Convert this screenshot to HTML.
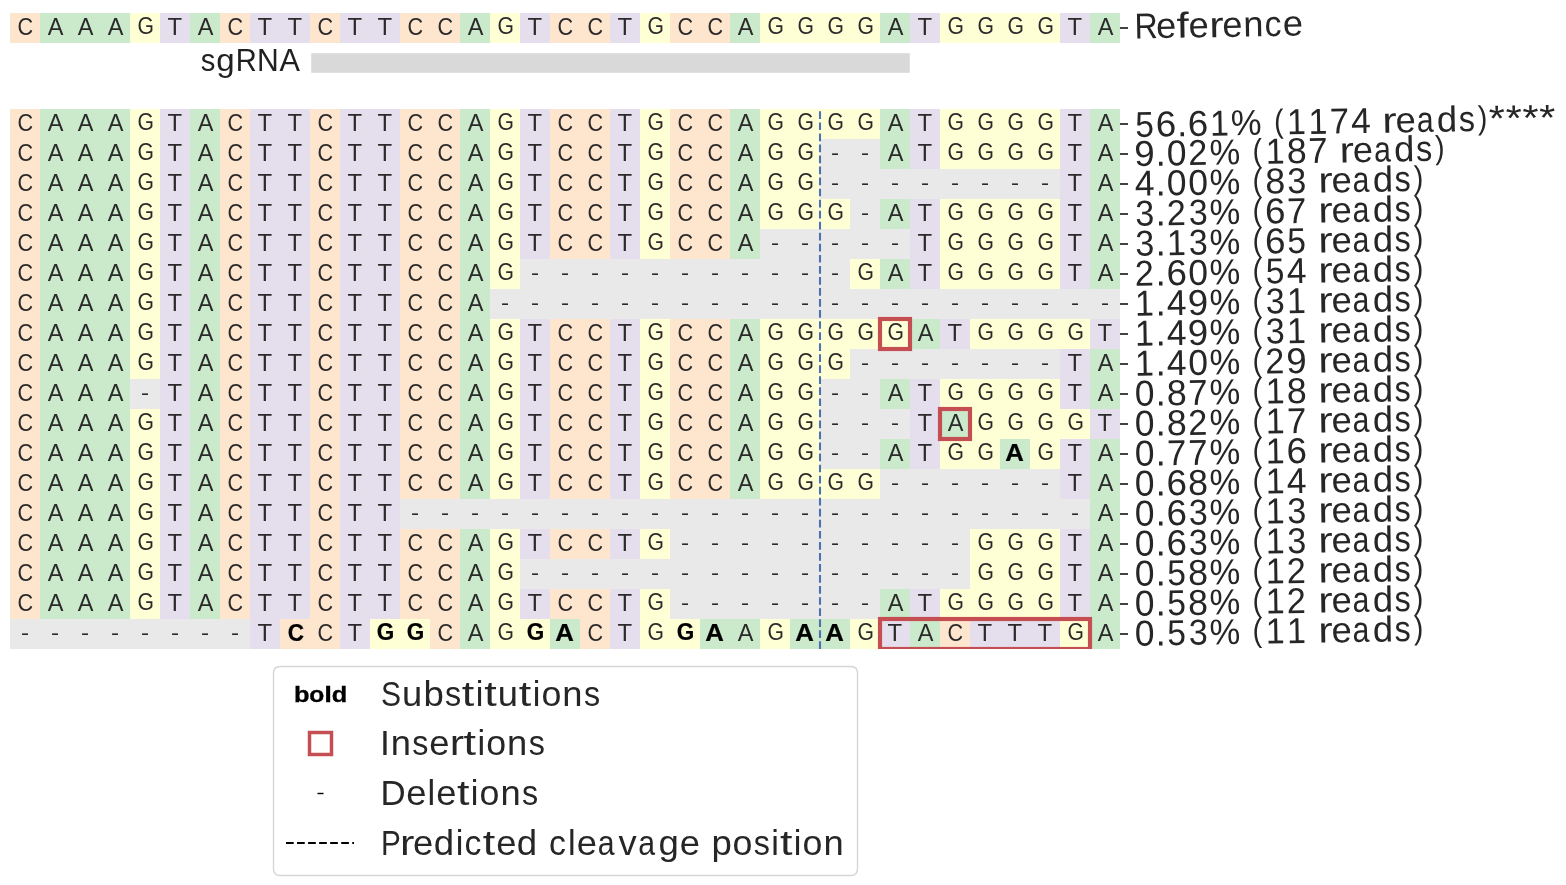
<!DOCTYPE html>
<html><head><meta charset="utf-8"><title>Allele plot</title><style>html,body{margin:0;padding:0;background:#fff;width:1566px;height:885px;overflow:hidden}svg{display:block;will-change:transform}text{font-family:"Liberation Sans",sans-serif}.n{font-size:23.0px;text-anchor:middle}.b{fill:#000;font-weight:bold;font-size:24.0px;text-anchor:middle}.l{fill:#262626;font-size:36px}</style></head><body>
<svg width="1566" height="885" viewBox="0 0 1566 885">
<rect width="1566" height="885" fill="#fff"/>
<defs>
<text id="gA" class="n" style="font-size:23.0px" transform="translate(0.5,7) scale(1.022,1.0)">A</text>
<text id="gC" class="n" style="font-size:23.5px" transform="translate(0.25,7) scale(0.92,1.0)">C</text>
<text id="gG" class="n" style="font-size:24.5px" transform="translate(0.75,6) scale(0.863,0.95)">G</text>
<text id="gT" class="n" style="font-size:24.5px" transform="translate(-0.25,7) scale(0.978,1.0)">T</text>
<text id="gD" class="n" style="font-size:22.0px" transform="translate(0.0,6) scale(1.103,0.92)">-</text>
<text id="gbA" class="b" style="font-size:24.0px;stroke:#000;stroke-width:0.25px" transform="translate(-0.5,7) scale(1.074,0.98)">A</text>
<text id="gbC" class="b" style="font-size:23.0px;stroke:#000;stroke-width:0.25px" transform="translate(1.0,7) scale(0.98,1.0)">C</text>
<text id="gbG" class="b" style="font-size:25.0px;stroke:#000;stroke-width:0.25px" transform="translate(0.5,6) scale(0.902,0.95)">G</text>
</defs>
<rect x="10" y="13" width="30" height="30" fill="#fee5ce"/><rect x="40" y="13" width="90" height="30" fill="#cbe9cb"/><rect x="130" y="13" width="30" height="30" fill="#ffffd6"/><rect x="160" y="13" width="30" height="30" fill="#e5deed"/><rect x="190" y="13" width="30" height="30" fill="#cbe9cb"/><rect x="220" y="13" width="30" height="30" fill="#fee5ce"/><rect x="250" y="13" width="60" height="30" fill="#e5deed"/><rect x="310" y="13" width="30" height="30" fill="#fee5ce"/><rect x="340" y="13" width="60" height="30" fill="#e5deed"/><rect x="400" y="13" width="60" height="30" fill="#fee5ce"/><rect x="460" y="13" width="30" height="30" fill="#cbe9cb"/><rect x="490" y="13" width="30" height="30" fill="#ffffd6"/><rect x="520" y="13" width="30" height="30" fill="#e5deed"/><rect x="550" y="13" width="60" height="30" fill="#fee5ce"/><rect x="610" y="13" width="30" height="30" fill="#e5deed"/><rect x="640" y="13" width="30" height="30" fill="#ffffd6"/><rect x="670" y="13" width="60" height="30" fill="#fee5ce"/><rect x="730" y="13" width="30" height="30" fill="#cbe9cb"/><rect x="760" y="13" width="120" height="30" fill="#ffffd6"/><rect x="880" y="13" width="30" height="30" fill="#cbe9cb"/><rect x="910" y="13" width="30" height="30" fill="#e5deed"/><rect x="940" y="13" width="120" height="30" fill="#ffffd6"/><rect x="1060" y="13" width="30" height="30" fill="#e5deed"/><rect x="1090" y="13" width="30" height="30" fill="#cbe9cb"/><g fill="#2a2a2a"><use href="#gC" x="25" y="28"/><use href="#gA" x="55" y="28"/><use href="#gA" x="85" y="28"/><use href="#gA" x="115" y="28"/><use href="#gG" x="145" y="28"/><use href="#gT" x="175" y="28"/><use href="#gA" x="205" y="28"/><use href="#gC" x="235" y="28"/><use href="#gT" x="265" y="28"/><use href="#gT" x="295" y="28"/><use href="#gC" x="325" y="28"/><use href="#gT" x="355" y="28"/><use href="#gT" x="385" y="28"/><use href="#gC" x="415" y="28"/><use href="#gC" x="445" y="28"/><use href="#gA" x="475" y="28"/><use href="#gG" x="505" y="28"/><use href="#gT" x="535" y="28"/><use href="#gC" x="565" y="28"/><use href="#gC" x="595" y="28"/><use href="#gT" x="625" y="28"/><use href="#gG" x="655" y="28"/><use href="#gC" x="685" y="28"/><use href="#gC" x="715" y="28"/><use href="#gA" x="745" y="28"/><use href="#gG" x="775" y="28"/><use href="#gG" x="805" y="28"/><use href="#gG" x="835" y="28"/><use href="#gG" x="865" y="28"/><use href="#gA" x="895" y="28"/><use href="#gT" x="925" y="28"/><use href="#gG" x="955" y="28"/><use href="#gG" x="985" y="28"/><use href="#gG" x="1015" y="28"/><use href="#gG" x="1045" y="28"/><use href="#gT" x="1075" y="28"/><use href="#gA" x="1105" y="28"/></g>
<rect x="10" y="109" width="30" height="30" fill="#fee5ce"/><rect x="40" y="109" width="90" height="30" fill="#cbe9cb"/><rect x="130" y="109" width="30" height="30" fill="#ffffd6"/><rect x="160" y="109" width="30" height="30" fill="#e5deed"/><rect x="190" y="109" width="30" height="30" fill="#cbe9cb"/><rect x="220" y="109" width="30" height="30" fill="#fee5ce"/><rect x="250" y="109" width="60" height="30" fill="#e5deed"/><rect x="310" y="109" width="30" height="30" fill="#fee5ce"/><rect x="340" y="109" width="60" height="30" fill="#e5deed"/><rect x="400" y="109" width="60" height="30" fill="#fee5ce"/><rect x="460" y="109" width="30" height="30" fill="#cbe9cb"/><rect x="490" y="109" width="30" height="30" fill="#ffffd6"/><rect x="520" y="109" width="30" height="30" fill="#e5deed"/><rect x="550" y="109" width="60" height="30" fill="#fee5ce"/><rect x="610" y="109" width="30" height="30" fill="#e5deed"/><rect x="640" y="109" width="30" height="30" fill="#ffffd6"/><rect x="670" y="109" width="60" height="30" fill="#fee5ce"/><rect x="730" y="109" width="30" height="30" fill="#cbe9cb"/><rect x="760" y="109" width="120" height="30" fill="#ffffd6"/><rect x="880" y="109" width="30" height="30" fill="#cbe9cb"/><rect x="910" y="109" width="30" height="30" fill="#e5deed"/><rect x="940" y="109" width="120" height="30" fill="#ffffd6"/><rect x="1060" y="109" width="30" height="30" fill="#e5deed"/><rect x="1090" y="109" width="30" height="30" fill="#cbe9cb"/><g fill="#2a2a2a"><use href="#gC" x="25" y="124"/><use href="#gA" x="55" y="124"/><use href="#gA" x="85" y="124"/><use href="#gA" x="115" y="124"/><use href="#gG" x="145" y="124"/><use href="#gT" x="175" y="124"/><use href="#gA" x="205" y="124"/><use href="#gC" x="235" y="124"/><use href="#gT" x="265" y="124"/><use href="#gT" x="295" y="124"/><use href="#gC" x="325" y="124"/><use href="#gT" x="355" y="124"/><use href="#gT" x="385" y="124"/><use href="#gC" x="415" y="124"/><use href="#gC" x="445" y="124"/><use href="#gA" x="475" y="124"/><use href="#gG" x="505" y="124"/><use href="#gT" x="535" y="124"/><use href="#gC" x="565" y="124"/><use href="#gC" x="595" y="124"/><use href="#gT" x="625" y="124"/><use href="#gG" x="655" y="124"/><use href="#gC" x="685" y="124"/><use href="#gC" x="715" y="124"/><use href="#gA" x="745" y="124"/><use href="#gG" x="775" y="124"/><use href="#gG" x="805" y="124"/><use href="#gG" x="835" y="124"/><use href="#gG" x="865" y="124"/><use href="#gA" x="895" y="124"/><use href="#gT" x="925" y="124"/><use href="#gG" x="955" y="124"/><use href="#gG" x="985" y="124"/><use href="#gG" x="1015" y="124"/><use href="#gG" x="1045" y="124"/><use href="#gT" x="1075" y="124"/><use href="#gA" x="1105" y="124"/></g>
<rect x="10" y="139" width="30" height="30" fill="#fee5ce"/><rect x="40" y="139" width="90" height="30" fill="#cbe9cb"/><rect x="130" y="139" width="30" height="30" fill="#ffffd6"/><rect x="160" y="139" width="30" height="30" fill="#e5deed"/><rect x="190" y="139" width="30" height="30" fill="#cbe9cb"/><rect x="220" y="139" width="30" height="30" fill="#fee5ce"/><rect x="250" y="139" width="60" height="30" fill="#e5deed"/><rect x="310" y="139" width="30" height="30" fill="#fee5ce"/><rect x="340" y="139" width="60" height="30" fill="#e5deed"/><rect x="400" y="139" width="60" height="30" fill="#fee5ce"/><rect x="460" y="139" width="30" height="30" fill="#cbe9cb"/><rect x="490" y="139" width="30" height="30" fill="#ffffd6"/><rect x="520" y="139" width="30" height="30" fill="#e5deed"/><rect x="550" y="139" width="60" height="30" fill="#fee5ce"/><rect x="610" y="139" width="30" height="30" fill="#e5deed"/><rect x="640" y="139" width="30" height="30" fill="#ffffd6"/><rect x="670" y="139" width="60" height="30" fill="#fee5ce"/><rect x="730" y="139" width="30" height="30" fill="#cbe9cb"/><rect x="760" y="139" width="60" height="30" fill="#ffffd6"/><rect x="820" y="139" width="60" height="30" fill="#e9e9e9"/><rect x="880" y="139" width="30" height="30" fill="#cbe9cb"/><rect x="910" y="139" width="30" height="30" fill="#e5deed"/><rect x="940" y="139" width="120" height="30" fill="#ffffd6"/><rect x="1060" y="139" width="30" height="30" fill="#e5deed"/><rect x="1090" y="139" width="30" height="30" fill="#cbe9cb"/><g fill="#2a2a2a"><use href="#gC" x="25" y="154"/><use href="#gA" x="55" y="154"/><use href="#gA" x="85" y="154"/><use href="#gA" x="115" y="154"/><use href="#gG" x="145" y="154"/><use href="#gT" x="175" y="154"/><use href="#gA" x="205" y="154"/><use href="#gC" x="235" y="154"/><use href="#gT" x="265" y="154"/><use href="#gT" x="295" y="154"/><use href="#gC" x="325" y="154"/><use href="#gT" x="355" y="154"/><use href="#gT" x="385" y="154"/><use href="#gC" x="415" y="154"/><use href="#gC" x="445" y="154"/><use href="#gA" x="475" y="154"/><use href="#gG" x="505" y="154"/><use href="#gT" x="535" y="154"/><use href="#gC" x="565" y="154"/><use href="#gC" x="595" y="154"/><use href="#gT" x="625" y="154"/><use href="#gG" x="655" y="154"/><use href="#gC" x="685" y="154"/><use href="#gC" x="715" y="154"/><use href="#gA" x="745" y="154"/><use href="#gG" x="775" y="154"/><use href="#gG" x="805" y="154"/><use href="#gD" x="835" y="154"/><use href="#gD" x="865" y="154"/><use href="#gA" x="895" y="154"/><use href="#gT" x="925" y="154"/><use href="#gG" x="955" y="154"/><use href="#gG" x="985" y="154"/><use href="#gG" x="1015" y="154"/><use href="#gG" x="1045" y="154"/><use href="#gT" x="1075" y="154"/><use href="#gA" x="1105" y="154"/></g>
<rect x="10" y="169" width="30" height="30" fill="#fee5ce"/><rect x="40" y="169" width="90" height="30" fill="#cbe9cb"/><rect x="130" y="169" width="30" height="30" fill="#ffffd6"/><rect x="160" y="169" width="30" height="30" fill="#e5deed"/><rect x="190" y="169" width="30" height="30" fill="#cbe9cb"/><rect x="220" y="169" width="30" height="30" fill="#fee5ce"/><rect x="250" y="169" width="60" height="30" fill="#e5deed"/><rect x="310" y="169" width="30" height="30" fill="#fee5ce"/><rect x="340" y="169" width="60" height="30" fill="#e5deed"/><rect x="400" y="169" width="60" height="30" fill="#fee5ce"/><rect x="460" y="169" width="30" height="30" fill="#cbe9cb"/><rect x="490" y="169" width="30" height="30" fill="#ffffd6"/><rect x="520" y="169" width="30" height="30" fill="#e5deed"/><rect x="550" y="169" width="60" height="30" fill="#fee5ce"/><rect x="610" y="169" width="30" height="30" fill="#e5deed"/><rect x="640" y="169" width="30" height="30" fill="#ffffd6"/><rect x="670" y="169" width="60" height="30" fill="#fee5ce"/><rect x="730" y="169" width="30" height="30" fill="#cbe9cb"/><rect x="760" y="169" width="60" height="30" fill="#ffffd6"/><rect x="820" y="169" width="240" height="30" fill="#e9e9e9"/><rect x="1060" y="169" width="30" height="30" fill="#e5deed"/><rect x="1090" y="169" width="30" height="30" fill="#cbe9cb"/><g fill="#2a2a2a"><use href="#gC" x="25" y="184"/><use href="#gA" x="55" y="184"/><use href="#gA" x="85" y="184"/><use href="#gA" x="115" y="184"/><use href="#gG" x="145" y="184"/><use href="#gT" x="175" y="184"/><use href="#gA" x="205" y="184"/><use href="#gC" x="235" y="184"/><use href="#gT" x="265" y="184"/><use href="#gT" x="295" y="184"/><use href="#gC" x="325" y="184"/><use href="#gT" x="355" y="184"/><use href="#gT" x="385" y="184"/><use href="#gC" x="415" y="184"/><use href="#gC" x="445" y="184"/><use href="#gA" x="475" y="184"/><use href="#gG" x="505" y="184"/><use href="#gT" x="535" y="184"/><use href="#gC" x="565" y="184"/><use href="#gC" x="595" y="184"/><use href="#gT" x="625" y="184"/><use href="#gG" x="655" y="184"/><use href="#gC" x="685" y="184"/><use href="#gC" x="715" y="184"/><use href="#gA" x="745" y="184"/><use href="#gG" x="775" y="184"/><use href="#gG" x="805" y="184"/><use href="#gD" x="835" y="184"/><use href="#gD" x="865" y="184"/><use href="#gD" x="895" y="184"/><use href="#gD" x="925" y="184"/><use href="#gD" x="955" y="184"/><use href="#gD" x="985" y="184"/><use href="#gD" x="1015" y="184"/><use href="#gD" x="1045" y="184"/><use href="#gT" x="1075" y="184"/><use href="#gA" x="1105" y="184"/></g>
<rect x="10" y="199" width="30" height="30" fill="#fee5ce"/><rect x="40" y="199" width="90" height="30" fill="#cbe9cb"/><rect x="130" y="199" width="30" height="30" fill="#ffffd6"/><rect x="160" y="199" width="30" height="30" fill="#e5deed"/><rect x="190" y="199" width="30" height="30" fill="#cbe9cb"/><rect x="220" y="199" width="30" height="30" fill="#fee5ce"/><rect x="250" y="199" width="60" height="30" fill="#e5deed"/><rect x="310" y="199" width="30" height="30" fill="#fee5ce"/><rect x="340" y="199" width="60" height="30" fill="#e5deed"/><rect x="400" y="199" width="60" height="30" fill="#fee5ce"/><rect x="460" y="199" width="30" height="30" fill="#cbe9cb"/><rect x="490" y="199" width="30" height="30" fill="#ffffd6"/><rect x="520" y="199" width="30" height="30" fill="#e5deed"/><rect x="550" y="199" width="60" height="30" fill="#fee5ce"/><rect x="610" y="199" width="30" height="30" fill="#e5deed"/><rect x="640" y="199" width="30" height="30" fill="#ffffd6"/><rect x="670" y="199" width="60" height="30" fill="#fee5ce"/><rect x="730" y="199" width="30" height="30" fill="#cbe9cb"/><rect x="760" y="199" width="90" height="30" fill="#ffffd6"/><rect x="850" y="199" width="30" height="30" fill="#e9e9e9"/><rect x="880" y="199" width="30" height="30" fill="#cbe9cb"/><rect x="910" y="199" width="30" height="30" fill="#e5deed"/><rect x="940" y="199" width="120" height="30" fill="#ffffd6"/><rect x="1060" y="199" width="30" height="30" fill="#e5deed"/><rect x="1090" y="199" width="30" height="30" fill="#cbe9cb"/><g fill="#2a2a2a"><use href="#gC" x="25" y="214"/><use href="#gA" x="55" y="214"/><use href="#gA" x="85" y="214"/><use href="#gA" x="115" y="214"/><use href="#gG" x="145" y="214"/><use href="#gT" x="175" y="214"/><use href="#gA" x="205" y="214"/><use href="#gC" x="235" y="214"/><use href="#gT" x="265" y="214"/><use href="#gT" x="295" y="214"/><use href="#gC" x="325" y="214"/><use href="#gT" x="355" y="214"/><use href="#gT" x="385" y="214"/><use href="#gC" x="415" y="214"/><use href="#gC" x="445" y="214"/><use href="#gA" x="475" y="214"/><use href="#gG" x="505" y="214"/><use href="#gT" x="535" y="214"/><use href="#gC" x="565" y="214"/><use href="#gC" x="595" y="214"/><use href="#gT" x="625" y="214"/><use href="#gG" x="655" y="214"/><use href="#gC" x="685" y="214"/><use href="#gC" x="715" y="214"/><use href="#gA" x="745" y="214"/><use href="#gG" x="775" y="214"/><use href="#gG" x="805" y="214"/><use href="#gG" x="835" y="214"/><use href="#gD" x="865" y="214"/><use href="#gA" x="895" y="214"/><use href="#gT" x="925" y="214"/><use href="#gG" x="955" y="214"/><use href="#gG" x="985" y="214"/><use href="#gG" x="1015" y="214"/><use href="#gG" x="1045" y="214"/><use href="#gT" x="1075" y="214"/><use href="#gA" x="1105" y="214"/></g>
<rect x="10" y="229" width="30" height="30" fill="#fee5ce"/><rect x="40" y="229" width="90" height="30" fill="#cbe9cb"/><rect x="130" y="229" width="30" height="30" fill="#ffffd6"/><rect x="160" y="229" width="30" height="30" fill="#e5deed"/><rect x="190" y="229" width="30" height="30" fill="#cbe9cb"/><rect x="220" y="229" width="30" height="30" fill="#fee5ce"/><rect x="250" y="229" width="60" height="30" fill="#e5deed"/><rect x="310" y="229" width="30" height="30" fill="#fee5ce"/><rect x="340" y="229" width="60" height="30" fill="#e5deed"/><rect x="400" y="229" width="60" height="30" fill="#fee5ce"/><rect x="460" y="229" width="30" height="30" fill="#cbe9cb"/><rect x="490" y="229" width="30" height="30" fill="#ffffd6"/><rect x="520" y="229" width="30" height="30" fill="#e5deed"/><rect x="550" y="229" width="60" height="30" fill="#fee5ce"/><rect x="610" y="229" width="30" height="30" fill="#e5deed"/><rect x="640" y="229" width="30" height="30" fill="#ffffd6"/><rect x="670" y="229" width="60" height="30" fill="#fee5ce"/><rect x="730" y="229" width="30" height="30" fill="#cbe9cb"/><rect x="760" y="229" width="150" height="30" fill="#e9e9e9"/><rect x="910" y="229" width="30" height="30" fill="#e5deed"/><rect x="940" y="229" width="120" height="30" fill="#ffffd6"/><rect x="1060" y="229" width="30" height="30" fill="#e5deed"/><rect x="1090" y="229" width="30" height="30" fill="#cbe9cb"/><g fill="#2a2a2a"><use href="#gC" x="25" y="244"/><use href="#gA" x="55" y="244"/><use href="#gA" x="85" y="244"/><use href="#gA" x="115" y="244"/><use href="#gG" x="145" y="244"/><use href="#gT" x="175" y="244"/><use href="#gA" x="205" y="244"/><use href="#gC" x="235" y="244"/><use href="#gT" x="265" y="244"/><use href="#gT" x="295" y="244"/><use href="#gC" x="325" y="244"/><use href="#gT" x="355" y="244"/><use href="#gT" x="385" y="244"/><use href="#gC" x="415" y="244"/><use href="#gC" x="445" y="244"/><use href="#gA" x="475" y="244"/><use href="#gG" x="505" y="244"/><use href="#gT" x="535" y="244"/><use href="#gC" x="565" y="244"/><use href="#gC" x="595" y="244"/><use href="#gT" x="625" y="244"/><use href="#gG" x="655" y="244"/><use href="#gC" x="685" y="244"/><use href="#gC" x="715" y="244"/><use href="#gA" x="745" y="244"/><use href="#gD" x="775" y="244"/><use href="#gD" x="805" y="244"/><use href="#gD" x="835" y="244"/><use href="#gD" x="865" y="244"/><use href="#gD" x="895" y="244"/><use href="#gT" x="925" y="244"/><use href="#gG" x="955" y="244"/><use href="#gG" x="985" y="244"/><use href="#gG" x="1015" y="244"/><use href="#gG" x="1045" y="244"/><use href="#gT" x="1075" y="244"/><use href="#gA" x="1105" y="244"/></g>
<rect x="10" y="259" width="30" height="30" fill="#fee5ce"/><rect x="40" y="259" width="90" height="30" fill="#cbe9cb"/><rect x="130" y="259" width="30" height="30" fill="#ffffd6"/><rect x="160" y="259" width="30" height="30" fill="#e5deed"/><rect x="190" y="259" width="30" height="30" fill="#cbe9cb"/><rect x="220" y="259" width="30" height="30" fill="#fee5ce"/><rect x="250" y="259" width="60" height="30" fill="#e5deed"/><rect x="310" y="259" width="30" height="30" fill="#fee5ce"/><rect x="340" y="259" width="60" height="30" fill="#e5deed"/><rect x="400" y="259" width="60" height="30" fill="#fee5ce"/><rect x="460" y="259" width="30" height="30" fill="#cbe9cb"/><rect x="490" y="259" width="30" height="30" fill="#ffffd6"/><rect x="520" y="259" width="330" height="30" fill="#e9e9e9"/><rect x="850" y="259" width="30" height="30" fill="#ffffd6"/><rect x="880" y="259" width="30" height="30" fill="#cbe9cb"/><rect x="910" y="259" width="30" height="30" fill="#e5deed"/><rect x="940" y="259" width="120" height="30" fill="#ffffd6"/><rect x="1060" y="259" width="30" height="30" fill="#e5deed"/><rect x="1090" y="259" width="30" height="30" fill="#cbe9cb"/><g fill="#2a2a2a"><use href="#gC" x="25" y="274"/><use href="#gA" x="55" y="274"/><use href="#gA" x="85" y="274"/><use href="#gA" x="115" y="274"/><use href="#gG" x="145" y="274"/><use href="#gT" x="175" y="274"/><use href="#gA" x="205" y="274"/><use href="#gC" x="235" y="274"/><use href="#gT" x="265" y="274"/><use href="#gT" x="295" y="274"/><use href="#gC" x="325" y="274"/><use href="#gT" x="355" y="274"/><use href="#gT" x="385" y="274"/><use href="#gC" x="415" y="274"/><use href="#gC" x="445" y="274"/><use href="#gA" x="475" y="274"/><use href="#gG" x="505" y="274"/><use href="#gD" x="535" y="274"/><use href="#gD" x="565" y="274"/><use href="#gD" x="595" y="274"/><use href="#gD" x="625" y="274"/><use href="#gD" x="655" y="274"/><use href="#gD" x="685" y="274"/><use href="#gD" x="715" y="274"/><use href="#gD" x="745" y="274"/><use href="#gD" x="775" y="274"/><use href="#gD" x="805" y="274"/><use href="#gD" x="835" y="274"/><use href="#gG" x="865" y="274"/><use href="#gA" x="895" y="274"/><use href="#gT" x="925" y="274"/><use href="#gG" x="955" y="274"/><use href="#gG" x="985" y="274"/><use href="#gG" x="1015" y="274"/><use href="#gG" x="1045" y="274"/><use href="#gT" x="1075" y="274"/><use href="#gA" x="1105" y="274"/></g>
<rect x="10" y="289" width="30" height="30" fill="#fee5ce"/><rect x="40" y="289" width="90" height="30" fill="#cbe9cb"/><rect x="130" y="289" width="30" height="30" fill="#ffffd6"/><rect x="160" y="289" width="30" height="30" fill="#e5deed"/><rect x="190" y="289" width="30" height="30" fill="#cbe9cb"/><rect x="220" y="289" width="30" height="30" fill="#fee5ce"/><rect x="250" y="289" width="60" height="30" fill="#e5deed"/><rect x="310" y="289" width="30" height="30" fill="#fee5ce"/><rect x="340" y="289" width="60" height="30" fill="#e5deed"/><rect x="400" y="289" width="60" height="30" fill="#fee5ce"/><rect x="460" y="289" width="30" height="30" fill="#cbe9cb"/><rect x="490" y="289" width="630" height="30" fill="#e9e9e9"/><g fill="#2a2a2a"><use href="#gC" x="25" y="304"/><use href="#gA" x="55" y="304"/><use href="#gA" x="85" y="304"/><use href="#gA" x="115" y="304"/><use href="#gG" x="145" y="304"/><use href="#gT" x="175" y="304"/><use href="#gA" x="205" y="304"/><use href="#gC" x="235" y="304"/><use href="#gT" x="265" y="304"/><use href="#gT" x="295" y="304"/><use href="#gC" x="325" y="304"/><use href="#gT" x="355" y="304"/><use href="#gT" x="385" y="304"/><use href="#gC" x="415" y="304"/><use href="#gC" x="445" y="304"/><use href="#gA" x="475" y="304"/><use href="#gD" x="505" y="304"/><use href="#gD" x="535" y="304"/><use href="#gD" x="565" y="304"/><use href="#gD" x="595" y="304"/><use href="#gD" x="625" y="304"/><use href="#gD" x="655" y="304"/><use href="#gD" x="685" y="304"/><use href="#gD" x="715" y="304"/><use href="#gD" x="745" y="304"/><use href="#gD" x="775" y="304"/><use href="#gD" x="805" y="304"/><use href="#gD" x="835" y="304"/><use href="#gD" x="865" y="304"/><use href="#gD" x="895" y="304"/><use href="#gD" x="925" y="304"/><use href="#gD" x="955" y="304"/><use href="#gD" x="985" y="304"/><use href="#gD" x="1015" y="304"/><use href="#gD" x="1045" y="304"/><use href="#gD" x="1075" y="304"/><use href="#gD" x="1105" y="304"/></g>
<rect x="10" y="319" width="30" height="30" fill="#fee5ce"/><rect x="40" y="319" width="90" height="30" fill="#cbe9cb"/><rect x="130" y="319" width="30" height="30" fill="#ffffd6"/><rect x="160" y="319" width="30" height="30" fill="#e5deed"/><rect x="190" y="319" width="30" height="30" fill="#cbe9cb"/><rect x="220" y="319" width="30" height="30" fill="#fee5ce"/><rect x="250" y="319" width="60" height="30" fill="#e5deed"/><rect x="310" y="319" width="30" height="30" fill="#fee5ce"/><rect x="340" y="319" width="60" height="30" fill="#e5deed"/><rect x="400" y="319" width="60" height="30" fill="#fee5ce"/><rect x="460" y="319" width="30" height="30" fill="#cbe9cb"/><rect x="490" y="319" width="30" height="30" fill="#ffffd6"/><rect x="520" y="319" width="30" height="30" fill="#e5deed"/><rect x="550" y="319" width="60" height="30" fill="#fee5ce"/><rect x="610" y="319" width="30" height="30" fill="#e5deed"/><rect x="640" y="319" width="30" height="30" fill="#ffffd6"/><rect x="670" y="319" width="60" height="30" fill="#fee5ce"/><rect x="730" y="319" width="30" height="30" fill="#cbe9cb"/><rect x="760" y="319" width="150" height="30" fill="#ffffd6"/><rect x="910" y="319" width="30" height="30" fill="#cbe9cb"/><rect x="940" y="319" width="30" height="30" fill="#e5deed"/><rect x="970" y="319" width="120" height="30" fill="#ffffd6"/><rect x="1090" y="319" width="30" height="30" fill="#e5deed"/><g fill="#2a2a2a"><use href="#gC" x="25" y="334"/><use href="#gA" x="55" y="334"/><use href="#gA" x="85" y="334"/><use href="#gA" x="115" y="334"/><use href="#gG" x="145" y="334"/><use href="#gT" x="175" y="334"/><use href="#gA" x="205" y="334"/><use href="#gC" x="235" y="334"/><use href="#gT" x="265" y="334"/><use href="#gT" x="295" y="334"/><use href="#gC" x="325" y="334"/><use href="#gT" x="355" y="334"/><use href="#gT" x="385" y="334"/><use href="#gC" x="415" y="334"/><use href="#gC" x="445" y="334"/><use href="#gA" x="475" y="334"/><use href="#gG" x="505" y="334"/><use href="#gT" x="535" y="334"/><use href="#gC" x="565" y="334"/><use href="#gC" x="595" y="334"/><use href="#gT" x="625" y="334"/><use href="#gG" x="655" y="334"/><use href="#gC" x="685" y="334"/><use href="#gC" x="715" y="334"/><use href="#gA" x="745" y="334"/><use href="#gG" x="775" y="334"/><use href="#gG" x="805" y="334"/><use href="#gG" x="835" y="334"/><use href="#gG" x="865" y="334"/><use href="#gG" x="895" y="334"/><use href="#gA" x="925" y="334"/><use href="#gT" x="955" y="334"/><use href="#gG" x="985" y="334"/><use href="#gG" x="1015" y="334"/><use href="#gG" x="1045" y="334"/><use href="#gG" x="1075" y="334"/><use href="#gT" x="1105" y="334"/></g>
<rect x="10" y="349" width="30" height="30" fill="#fee5ce"/><rect x="40" y="349" width="90" height="30" fill="#cbe9cb"/><rect x="130" y="349" width="30" height="30" fill="#ffffd6"/><rect x="160" y="349" width="30" height="30" fill="#e5deed"/><rect x="190" y="349" width="30" height="30" fill="#cbe9cb"/><rect x="220" y="349" width="30" height="30" fill="#fee5ce"/><rect x="250" y="349" width="60" height="30" fill="#e5deed"/><rect x="310" y="349" width="30" height="30" fill="#fee5ce"/><rect x="340" y="349" width="60" height="30" fill="#e5deed"/><rect x="400" y="349" width="60" height="30" fill="#fee5ce"/><rect x="460" y="349" width="30" height="30" fill="#cbe9cb"/><rect x="490" y="349" width="30" height="30" fill="#ffffd6"/><rect x="520" y="349" width="30" height="30" fill="#e5deed"/><rect x="550" y="349" width="60" height="30" fill="#fee5ce"/><rect x="610" y="349" width="30" height="30" fill="#e5deed"/><rect x="640" y="349" width="30" height="30" fill="#ffffd6"/><rect x="670" y="349" width="60" height="30" fill="#fee5ce"/><rect x="730" y="349" width="30" height="30" fill="#cbe9cb"/><rect x="760" y="349" width="90" height="30" fill="#ffffd6"/><rect x="850" y="349" width="210" height="30" fill="#e9e9e9"/><rect x="1060" y="349" width="30" height="30" fill="#e5deed"/><rect x="1090" y="349" width="30" height="30" fill="#cbe9cb"/><g fill="#2a2a2a"><use href="#gC" x="25" y="364"/><use href="#gA" x="55" y="364"/><use href="#gA" x="85" y="364"/><use href="#gA" x="115" y="364"/><use href="#gG" x="145" y="364"/><use href="#gT" x="175" y="364"/><use href="#gA" x="205" y="364"/><use href="#gC" x="235" y="364"/><use href="#gT" x="265" y="364"/><use href="#gT" x="295" y="364"/><use href="#gC" x="325" y="364"/><use href="#gT" x="355" y="364"/><use href="#gT" x="385" y="364"/><use href="#gC" x="415" y="364"/><use href="#gC" x="445" y="364"/><use href="#gA" x="475" y="364"/><use href="#gG" x="505" y="364"/><use href="#gT" x="535" y="364"/><use href="#gC" x="565" y="364"/><use href="#gC" x="595" y="364"/><use href="#gT" x="625" y="364"/><use href="#gG" x="655" y="364"/><use href="#gC" x="685" y="364"/><use href="#gC" x="715" y="364"/><use href="#gA" x="745" y="364"/><use href="#gG" x="775" y="364"/><use href="#gG" x="805" y="364"/><use href="#gG" x="835" y="364"/><use href="#gD" x="865" y="364"/><use href="#gD" x="895" y="364"/><use href="#gD" x="925" y="364"/><use href="#gD" x="955" y="364"/><use href="#gD" x="985" y="364"/><use href="#gD" x="1015" y="364"/><use href="#gD" x="1045" y="364"/><use href="#gT" x="1075" y="364"/><use href="#gA" x="1105" y="364"/></g>
<rect x="10" y="379" width="30" height="30" fill="#fee5ce"/><rect x="40" y="379" width="90" height="30" fill="#cbe9cb"/><rect x="130" y="379" width="30" height="30" fill="#e9e9e9"/><rect x="160" y="379" width="30" height="30" fill="#e5deed"/><rect x="190" y="379" width="30" height="30" fill="#cbe9cb"/><rect x="220" y="379" width="30" height="30" fill="#fee5ce"/><rect x="250" y="379" width="60" height="30" fill="#e5deed"/><rect x="310" y="379" width="30" height="30" fill="#fee5ce"/><rect x="340" y="379" width="60" height="30" fill="#e5deed"/><rect x="400" y="379" width="60" height="30" fill="#fee5ce"/><rect x="460" y="379" width="30" height="30" fill="#cbe9cb"/><rect x="490" y="379" width="30" height="30" fill="#ffffd6"/><rect x="520" y="379" width="30" height="30" fill="#e5deed"/><rect x="550" y="379" width="60" height="30" fill="#fee5ce"/><rect x="610" y="379" width="30" height="30" fill="#e5deed"/><rect x="640" y="379" width="30" height="30" fill="#ffffd6"/><rect x="670" y="379" width="60" height="30" fill="#fee5ce"/><rect x="730" y="379" width="30" height="30" fill="#cbe9cb"/><rect x="760" y="379" width="60" height="30" fill="#ffffd6"/><rect x="820" y="379" width="60" height="30" fill="#e9e9e9"/><rect x="880" y="379" width="30" height="30" fill="#cbe9cb"/><rect x="910" y="379" width="30" height="30" fill="#e5deed"/><rect x="940" y="379" width="120" height="30" fill="#ffffd6"/><rect x="1060" y="379" width="30" height="30" fill="#e5deed"/><rect x="1090" y="379" width="30" height="30" fill="#cbe9cb"/><g fill="#2a2a2a"><use href="#gC" x="25" y="394"/><use href="#gA" x="55" y="394"/><use href="#gA" x="85" y="394"/><use href="#gA" x="115" y="394"/><use href="#gD" x="145" y="394"/><use href="#gT" x="175" y="394"/><use href="#gA" x="205" y="394"/><use href="#gC" x="235" y="394"/><use href="#gT" x="265" y="394"/><use href="#gT" x="295" y="394"/><use href="#gC" x="325" y="394"/><use href="#gT" x="355" y="394"/><use href="#gT" x="385" y="394"/><use href="#gC" x="415" y="394"/><use href="#gC" x="445" y="394"/><use href="#gA" x="475" y="394"/><use href="#gG" x="505" y="394"/><use href="#gT" x="535" y="394"/><use href="#gC" x="565" y="394"/><use href="#gC" x="595" y="394"/><use href="#gT" x="625" y="394"/><use href="#gG" x="655" y="394"/><use href="#gC" x="685" y="394"/><use href="#gC" x="715" y="394"/><use href="#gA" x="745" y="394"/><use href="#gG" x="775" y="394"/><use href="#gG" x="805" y="394"/><use href="#gD" x="835" y="394"/><use href="#gD" x="865" y="394"/><use href="#gA" x="895" y="394"/><use href="#gT" x="925" y="394"/><use href="#gG" x="955" y="394"/><use href="#gG" x="985" y="394"/><use href="#gG" x="1015" y="394"/><use href="#gG" x="1045" y="394"/><use href="#gT" x="1075" y="394"/><use href="#gA" x="1105" y="394"/></g>
<rect x="10" y="409" width="30" height="30" fill="#fee5ce"/><rect x="40" y="409" width="90" height="30" fill="#cbe9cb"/><rect x="130" y="409" width="30" height="30" fill="#ffffd6"/><rect x="160" y="409" width="30" height="30" fill="#e5deed"/><rect x="190" y="409" width="30" height="30" fill="#cbe9cb"/><rect x="220" y="409" width="30" height="30" fill="#fee5ce"/><rect x="250" y="409" width="60" height="30" fill="#e5deed"/><rect x="310" y="409" width="30" height="30" fill="#fee5ce"/><rect x="340" y="409" width="60" height="30" fill="#e5deed"/><rect x="400" y="409" width="60" height="30" fill="#fee5ce"/><rect x="460" y="409" width="30" height="30" fill="#cbe9cb"/><rect x="490" y="409" width="30" height="30" fill="#ffffd6"/><rect x="520" y="409" width="30" height="30" fill="#e5deed"/><rect x="550" y="409" width="60" height="30" fill="#fee5ce"/><rect x="610" y="409" width="30" height="30" fill="#e5deed"/><rect x="640" y="409" width="30" height="30" fill="#ffffd6"/><rect x="670" y="409" width="60" height="30" fill="#fee5ce"/><rect x="730" y="409" width="30" height="30" fill="#cbe9cb"/><rect x="760" y="409" width="60" height="30" fill="#ffffd6"/><rect x="820" y="409" width="90" height="30" fill="#e9e9e9"/><rect x="910" y="409" width="30" height="30" fill="#e5deed"/><rect x="940" y="409" width="30" height="30" fill="#cbe9cb"/><rect x="970" y="409" width="120" height="30" fill="#ffffd6"/><rect x="1090" y="409" width="30" height="30" fill="#e5deed"/><g fill="#2a2a2a"><use href="#gC" x="25" y="424"/><use href="#gA" x="55" y="424"/><use href="#gA" x="85" y="424"/><use href="#gA" x="115" y="424"/><use href="#gG" x="145" y="424"/><use href="#gT" x="175" y="424"/><use href="#gA" x="205" y="424"/><use href="#gC" x="235" y="424"/><use href="#gT" x="265" y="424"/><use href="#gT" x="295" y="424"/><use href="#gC" x="325" y="424"/><use href="#gT" x="355" y="424"/><use href="#gT" x="385" y="424"/><use href="#gC" x="415" y="424"/><use href="#gC" x="445" y="424"/><use href="#gA" x="475" y="424"/><use href="#gG" x="505" y="424"/><use href="#gT" x="535" y="424"/><use href="#gC" x="565" y="424"/><use href="#gC" x="595" y="424"/><use href="#gT" x="625" y="424"/><use href="#gG" x="655" y="424"/><use href="#gC" x="685" y="424"/><use href="#gC" x="715" y="424"/><use href="#gA" x="745" y="424"/><use href="#gG" x="775" y="424"/><use href="#gG" x="805" y="424"/><use href="#gD" x="835" y="424"/><use href="#gD" x="865" y="424"/><use href="#gD" x="895" y="424"/><use href="#gT" x="925" y="424"/><use href="#gA" x="955" y="424"/><use href="#gG" x="985" y="424"/><use href="#gG" x="1015" y="424"/><use href="#gG" x="1045" y="424"/><use href="#gG" x="1075" y="424"/><use href="#gT" x="1105" y="424"/></g>
<rect x="10" y="439" width="30" height="30" fill="#fee5ce"/><rect x="40" y="439" width="90" height="30" fill="#cbe9cb"/><rect x="130" y="439" width="30" height="30" fill="#ffffd6"/><rect x="160" y="439" width="30" height="30" fill="#e5deed"/><rect x="190" y="439" width="30" height="30" fill="#cbe9cb"/><rect x="220" y="439" width="30" height="30" fill="#fee5ce"/><rect x="250" y="439" width="60" height="30" fill="#e5deed"/><rect x="310" y="439" width="30" height="30" fill="#fee5ce"/><rect x="340" y="439" width="60" height="30" fill="#e5deed"/><rect x="400" y="439" width="60" height="30" fill="#fee5ce"/><rect x="460" y="439" width="30" height="30" fill="#cbe9cb"/><rect x="490" y="439" width="30" height="30" fill="#ffffd6"/><rect x="520" y="439" width="30" height="30" fill="#e5deed"/><rect x="550" y="439" width="60" height="30" fill="#fee5ce"/><rect x="610" y="439" width="30" height="30" fill="#e5deed"/><rect x="640" y="439" width="30" height="30" fill="#ffffd6"/><rect x="670" y="439" width="60" height="30" fill="#fee5ce"/><rect x="730" y="439" width="30" height="30" fill="#cbe9cb"/><rect x="760" y="439" width="60" height="30" fill="#ffffd6"/><rect x="820" y="439" width="60" height="30" fill="#e9e9e9"/><rect x="880" y="439" width="30" height="30" fill="#cbe9cb"/><rect x="910" y="439" width="30" height="30" fill="#e5deed"/><rect x="940" y="439" width="60" height="30" fill="#ffffd6"/><rect x="1000" y="439" width="30" height="30" fill="#cbe9cb"/><rect x="1030" y="439" width="30" height="30" fill="#ffffd6"/><rect x="1060" y="439" width="30" height="30" fill="#e5deed"/><rect x="1090" y="439" width="30" height="30" fill="#cbe9cb"/><g fill="#2a2a2a"><use href="#gC" x="25" y="454"/><use href="#gA" x="55" y="454"/><use href="#gA" x="85" y="454"/><use href="#gA" x="115" y="454"/><use href="#gG" x="145" y="454"/><use href="#gT" x="175" y="454"/><use href="#gA" x="205" y="454"/><use href="#gC" x="235" y="454"/><use href="#gT" x="265" y="454"/><use href="#gT" x="295" y="454"/><use href="#gC" x="325" y="454"/><use href="#gT" x="355" y="454"/><use href="#gT" x="385" y="454"/><use href="#gC" x="415" y="454"/><use href="#gC" x="445" y="454"/><use href="#gA" x="475" y="454"/><use href="#gG" x="505" y="454"/><use href="#gT" x="535" y="454"/><use href="#gC" x="565" y="454"/><use href="#gC" x="595" y="454"/><use href="#gT" x="625" y="454"/><use href="#gG" x="655" y="454"/><use href="#gC" x="685" y="454"/><use href="#gC" x="715" y="454"/><use href="#gA" x="745" y="454"/><use href="#gG" x="775" y="454"/><use href="#gG" x="805" y="454"/><use href="#gD" x="835" y="454"/><use href="#gD" x="865" y="454"/><use href="#gA" x="895" y="454"/><use href="#gT" x="925" y="454"/><use href="#gG" x="955" y="454"/><use href="#gG" x="985" y="454"/><use href="#gbA" x="1015" y="454"/><use href="#gG" x="1045" y="454"/><use href="#gT" x="1075" y="454"/><use href="#gA" x="1105" y="454"/></g>
<rect x="10" y="469" width="30" height="30" fill="#fee5ce"/><rect x="40" y="469" width="90" height="30" fill="#cbe9cb"/><rect x="130" y="469" width="30" height="30" fill="#ffffd6"/><rect x="160" y="469" width="30" height="30" fill="#e5deed"/><rect x="190" y="469" width="30" height="30" fill="#cbe9cb"/><rect x="220" y="469" width="30" height="30" fill="#fee5ce"/><rect x="250" y="469" width="60" height="30" fill="#e5deed"/><rect x="310" y="469" width="30" height="30" fill="#fee5ce"/><rect x="340" y="469" width="60" height="30" fill="#e5deed"/><rect x="400" y="469" width="60" height="30" fill="#fee5ce"/><rect x="460" y="469" width="30" height="30" fill="#cbe9cb"/><rect x="490" y="469" width="30" height="30" fill="#ffffd6"/><rect x="520" y="469" width="30" height="30" fill="#e5deed"/><rect x="550" y="469" width="60" height="30" fill="#fee5ce"/><rect x="610" y="469" width="30" height="30" fill="#e5deed"/><rect x="640" y="469" width="30" height="30" fill="#ffffd6"/><rect x="670" y="469" width="60" height="30" fill="#fee5ce"/><rect x="730" y="469" width="30" height="30" fill="#cbe9cb"/><rect x="760" y="469" width="120" height="30" fill="#ffffd6"/><rect x="880" y="469" width="180" height="30" fill="#e9e9e9"/><rect x="1060" y="469" width="30" height="30" fill="#e5deed"/><rect x="1090" y="469" width="30" height="30" fill="#cbe9cb"/><g fill="#2a2a2a"><use href="#gC" x="25" y="484"/><use href="#gA" x="55" y="484"/><use href="#gA" x="85" y="484"/><use href="#gA" x="115" y="484"/><use href="#gG" x="145" y="484"/><use href="#gT" x="175" y="484"/><use href="#gA" x="205" y="484"/><use href="#gC" x="235" y="484"/><use href="#gT" x="265" y="484"/><use href="#gT" x="295" y="484"/><use href="#gC" x="325" y="484"/><use href="#gT" x="355" y="484"/><use href="#gT" x="385" y="484"/><use href="#gC" x="415" y="484"/><use href="#gC" x="445" y="484"/><use href="#gA" x="475" y="484"/><use href="#gG" x="505" y="484"/><use href="#gT" x="535" y="484"/><use href="#gC" x="565" y="484"/><use href="#gC" x="595" y="484"/><use href="#gT" x="625" y="484"/><use href="#gG" x="655" y="484"/><use href="#gC" x="685" y="484"/><use href="#gC" x="715" y="484"/><use href="#gA" x="745" y="484"/><use href="#gG" x="775" y="484"/><use href="#gG" x="805" y="484"/><use href="#gG" x="835" y="484"/><use href="#gG" x="865" y="484"/><use href="#gD" x="895" y="484"/><use href="#gD" x="925" y="484"/><use href="#gD" x="955" y="484"/><use href="#gD" x="985" y="484"/><use href="#gD" x="1015" y="484"/><use href="#gD" x="1045" y="484"/><use href="#gT" x="1075" y="484"/><use href="#gA" x="1105" y="484"/></g>
<rect x="10" y="499" width="30" height="30" fill="#fee5ce"/><rect x="40" y="499" width="90" height="30" fill="#cbe9cb"/><rect x="130" y="499" width="30" height="30" fill="#ffffd6"/><rect x="160" y="499" width="30" height="30" fill="#e5deed"/><rect x="190" y="499" width="30" height="30" fill="#cbe9cb"/><rect x="220" y="499" width="30" height="30" fill="#fee5ce"/><rect x="250" y="499" width="60" height="30" fill="#e5deed"/><rect x="310" y="499" width="30" height="30" fill="#fee5ce"/><rect x="340" y="499" width="60" height="30" fill="#e5deed"/><rect x="400" y="499" width="690" height="30" fill="#e9e9e9"/><rect x="1090" y="499" width="30" height="30" fill="#cbe9cb"/><g fill="#2a2a2a"><use href="#gC" x="25" y="514"/><use href="#gA" x="55" y="514"/><use href="#gA" x="85" y="514"/><use href="#gA" x="115" y="514"/><use href="#gG" x="145" y="514"/><use href="#gT" x="175" y="514"/><use href="#gA" x="205" y="514"/><use href="#gC" x="235" y="514"/><use href="#gT" x="265" y="514"/><use href="#gT" x="295" y="514"/><use href="#gC" x="325" y="514"/><use href="#gT" x="355" y="514"/><use href="#gT" x="385" y="514"/><use href="#gD" x="415" y="514"/><use href="#gD" x="445" y="514"/><use href="#gD" x="475" y="514"/><use href="#gD" x="505" y="514"/><use href="#gD" x="535" y="514"/><use href="#gD" x="565" y="514"/><use href="#gD" x="595" y="514"/><use href="#gD" x="625" y="514"/><use href="#gD" x="655" y="514"/><use href="#gD" x="685" y="514"/><use href="#gD" x="715" y="514"/><use href="#gD" x="745" y="514"/><use href="#gD" x="775" y="514"/><use href="#gD" x="805" y="514"/><use href="#gD" x="835" y="514"/><use href="#gD" x="865" y="514"/><use href="#gD" x="895" y="514"/><use href="#gD" x="925" y="514"/><use href="#gD" x="955" y="514"/><use href="#gD" x="985" y="514"/><use href="#gD" x="1015" y="514"/><use href="#gD" x="1045" y="514"/><use href="#gD" x="1075" y="514"/><use href="#gA" x="1105" y="514"/></g>
<rect x="10" y="529" width="30" height="30" fill="#fee5ce"/><rect x="40" y="529" width="90" height="30" fill="#cbe9cb"/><rect x="130" y="529" width="30" height="30" fill="#ffffd6"/><rect x="160" y="529" width="30" height="30" fill="#e5deed"/><rect x="190" y="529" width="30" height="30" fill="#cbe9cb"/><rect x="220" y="529" width="30" height="30" fill="#fee5ce"/><rect x="250" y="529" width="60" height="30" fill="#e5deed"/><rect x="310" y="529" width="30" height="30" fill="#fee5ce"/><rect x="340" y="529" width="60" height="30" fill="#e5deed"/><rect x="400" y="529" width="60" height="30" fill="#fee5ce"/><rect x="460" y="529" width="30" height="30" fill="#cbe9cb"/><rect x="490" y="529" width="30" height="30" fill="#ffffd6"/><rect x="520" y="529" width="30" height="30" fill="#e5deed"/><rect x="550" y="529" width="60" height="30" fill="#fee5ce"/><rect x="610" y="529" width="30" height="30" fill="#e5deed"/><rect x="640" y="529" width="30" height="30" fill="#ffffd6"/><rect x="670" y="529" width="300" height="30" fill="#e9e9e9"/><rect x="970" y="529" width="90" height="30" fill="#ffffd6"/><rect x="1060" y="529" width="30" height="30" fill="#e5deed"/><rect x="1090" y="529" width="30" height="30" fill="#cbe9cb"/><g fill="#2a2a2a"><use href="#gC" x="25" y="544"/><use href="#gA" x="55" y="544"/><use href="#gA" x="85" y="544"/><use href="#gA" x="115" y="544"/><use href="#gG" x="145" y="544"/><use href="#gT" x="175" y="544"/><use href="#gA" x="205" y="544"/><use href="#gC" x="235" y="544"/><use href="#gT" x="265" y="544"/><use href="#gT" x="295" y="544"/><use href="#gC" x="325" y="544"/><use href="#gT" x="355" y="544"/><use href="#gT" x="385" y="544"/><use href="#gC" x="415" y="544"/><use href="#gC" x="445" y="544"/><use href="#gA" x="475" y="544"/><use href="#gG" x="505" y="544"/><use href="#gT" x="535" y="544"/><use href="#gC" x="565" y="544"/><use href="#gC" x="595" y="544"/><use href="#gT" x="625" y="544"/><use href="#gG" x="655" y="544"/><use href="#gD" x="685" y="544"/><use href="#gD" x="715" y="544"/><use href="#gD" x="745" y="544"/><use href="#gD" x="775" y="544"/><use href="#gD" x="805" y="544"/><use href="#gD" x="835" y="544"/><use href="#gD" x="865" y="544"/><use href="#gD" x="895" y="544"/><use href="#gD" x="925" y="544"/><use href="#gD" x="955" y="544"/><use href="#gG" x="985" y="544"/><use href="#gG" x="1015" y="544"/><use href="#gG" x="1045" y="544"/><use href="#gT" x="1075" y="544"/><use href="#gA" x="1105" y="544"/></g>
<rect x="10" y="559" width="30" height="30" fill="#fee5ce"/><rect x="40" y="559" width="90" height="30" fill="#cbe9cb"/><rect x="130" y="559" width="30" height="30" fill="#ffffd6"/><rect x="160" y="559" width="30" height="30" fill="#e5deed"/><rect x="190" y="559" width="30" height="30" fill="#cbe9cb"/><rect x="220" y="559" width="30" height="30" fill="#fee5ce"/><rect x="250" y="559" width="60" height="30" fill="#e5deed"/><rect x="310" y="559" width="30" height="30" fill="#fee5ce"/><rect x="340" y="559" width="60" height="30" fill="#e5deed"/><rect x="400" y="559" width="60" height="30" fill="#fee5ce"/><rect x="460" y="559" width="30" height="30" fill="#cbe9cb"/><rect x="490" y="559" width="30" height="30" fill="#ffffd6"/><rect x="520" y="559" width="450" height="30" fill="#e9e9e9"/><rect x="970" y="559" width="90" height="30" fill="#ffffd6"/><rect x="1060" y="559" width="30" height="30" fill="#e5deed"/><rect x="1090" y="559" width="30" height="30" fill="#cbe9cb"/><g fill="#2a2a2a"><use href="#gC" x="25" y="574"/><use href="#gA" x="55" y="574"/><use href="#gA" x="85" y="574"/><use href="#gA" x="115" y="574"/><use href="#gG" x="145" y="574"/><use href="#gT" x="175" y="574"/><use href="#gA" x="205" y="574"/><use href="#gC" x="235" y="574"/><use href="#gT" x="265" y="574"/><use href="#gT" x="295" y="574"/><use href="#gC" x="325" y="574"/><use href="#gT" x="355" y="574"/><use href="#gT" x="385" y="574"/><use href="#gC" x="415" y="574"/><use href="#gC" x="445" y="574"/><use href="#gA" x="475" y="574"/><use href="#gG" x="505" y="574"/><use href="#gD" x="535" y="574"/><use href="#gD" x="565" y="574"/><use href="#gD" x="595" y="574"/><use href="#gD" x="625" y="574"/><use href="#gD" x="655" y="574"/><use href="#gD" x="685" y="574"/><use href="#gD" x="715" y="574"/><use href="#gD" x="745" y="574"/><use href="#gD" x="775" y="574"/><use href="#gD" x="805" y="574"/><use href="#gD" x="835" y="574"/><use href="#gD" x="865" y="574"/><use href="#gD" x="895" y="574"/><use href="#gD" x="925" y="574"/><use href="#gD" x="955" y="574"/><use href="#gG" x="985" y="574"/><use href="#gG" x="1015" y="574"/><use href="#gG" x="1045" y="574"/><use href="#gT" x="1075" y="574"/><use href="#gA" x="1105" y="574"/></g>
<rect x="10" y="589" width="30" height="30" fill="#fee5ce"/><rect x="40" y="589" width="90" height="30" fill="#cbe9cb"/><rect x="130" y="589" width="30" height="30" fill="#ffffd6"/><rect x="160" y="589" width="30" height="30" fill="#e5deed"/><rect x="190" y="589" width="30" height="30" fill="#cbe9cb"/><rect x="220" y="589" width="30" height="30" fill="#fee5ce"/><rect x="250" y="589" width="60" height="30" fill="#e5deed"/><rect x="310" y="589" width="30" height="30" fill="#fee5ce"/><rect x="340" y="589" width="60" height="30" fill="#e5deed"/><rect x="400" y="589" width="60" height="30" fill="#fee5ce"/><rect x="460" y="589" width="30" height="30" fill="#cbe9cb"/><rect x="490" y="589" width="30" height="30" fill="#ffffd6"/><rect x="520" y="589" width="30" height="30" fill="#e5deed"/><rect x="550" y="589" width="60" height="30" fill="#fee5ce"/><rect x="610" y="589" width="30" height="30" fill="#e5deed"/><rect x="640" y="589" width="30" height="30" fill="#ffffd6"/><rect x="670" y="589" width="210" height="30" fill="#e9e9e9"/><rect x="880" y="589" width="30" height="30" fill="#cbe9cb"/><rect x="910" y="589" width="30" height="30" fill="#e5deed"/><rect x="940" y="589" width="120" height="30" fill="#ffffd6"/><rect x="1060" y="589" width="30" height="30" fill="#e5deed"/><rect x="1090" y="589" width="30" height="30" fill="#cbe9cb"/><g fill="#2a2a2a"><use href="#gC" x="25" y="604"/><use href="#gA" x="55" y="604"/><use href="#gA" x="85" y="604"/><use href="#gA" x="115" y="604"/><use href="#gG" x="145" y="604"/><use href="#gT" x="175" y="604"/><use href="#gA" x="205" y="604"/><use href="#gC" x="235" y="604"/><use href="#gT" x="265" y="604"/><use href="#gT" x="295" y="604"/><use href="#gC" x="325" y="604"/><use href="#gT" x="355" y="604"/><use href="#gT" x="385" y="604"/><use href="#gC" x="415" y="604"/><use href="#gC" x="445" y="604"/><use href="#gA" x="475" y="604"/><use href="#gG" x="505" y="604"/><use href="#gT" x="535" y="604"/><use href="#gC" x="565" y="604"/><use href="#gC" x="595" y="604"/><use href="#gT" x="625" y="604"/><use href="#gG" x="655" y="604"/><use href="#gD" x="685" y="604"/><use href="#gD" x="715" y="604"/><use href="#gD" x="745" y="604"/><use href="#gD" x="775" y="604"/><use href="#gD" x="805" y="604"/><use href="#gD" x="835" y="604"/><use href="#gD" x="865" y="604"/><use href="#gA" x="895" y="604"/><use href="#gT" x="925" y="604"/><use href="#gG" x="955" y="604"/><use href="#gG" x="985" y="604"/><use href="#gG" x="1015" y="604"/><use href="#gG" x="1045" y="604"/><use href="#gT" x="1075" y="604"/><use href="#gA" x="1105" y="604"/></g>
<rect x="10" y="619" width="240" height="30" fill="#e9e9e9"/><rect x="250" y="619" width="30" height="30" fill="#e5deed"/><rect x="280" y="619" width="60" height="30" fill="#fee5ce"/><rect x="340" y="619" width="30" height="30" fill="#e5deed"/><rect x="370" y="619" width="60" height="30" fill="#ffffd6"/><rect x="430" y="619" width="30" height="30" fill="#fee5ce"/><rect x="460" y="619" width="30" height="30" fill="#cbe9cb"/><rect x="490" y="619" width="60" height="30" fill="#ffffd6"/><rect x="550" y="619" width="30" height="30" fill="#cbe9cb"/><rect x="580" y="619" width="30" height="30" fill="#fee5ce"/><rect x="610" y="619" width="30" height="30" fill="#e5deed"/><rect x="640" y="619" width="60" height="30" fill="#ffffd6"/><rect x="700" y="619" width="60" height="30" fill="#cbe9cb"/><rect x="760" y="619" width="30" height="30" fill="#ffffd6"/><rect x="790" y="619" width="60" height="30" fill="#cbe9cb"/><rect x="850" y="619" width="30" height="30" fill="#ffffd6"/><rect x="880" y="619" width="30" height="30" fill="#e5deed"/><rect x="910" y="619" width="30" height="30" fill="#cbe9cb"/><rect x="940" y="619" width="30" height="30" fill="#fee5ce"/><rect x="970" y="619" width="90" height="30" fill="#e5deed"/><rect x="1060" y="619" width="30" height="30" fill="#ffffd6"/><rect x="1090" y="619" width="30" height="30" fill="#cbe9cb"/><g fill="#2a2a2a"><use href="#gD" x="25" y="634"/><use href="#gD" x="55" y="634"/><use href="#gD" x="85" y="634"/><use href="#gD" x="115" y="634"/><use href="#gD" x="145" y="634"/><use href="#gD" x="175" y="634"/><use href="#gD" x="205" y="634"/><use href="#gD" x="235" y="634"/><use href="#gT" x="265" y="634"/><use href="#gbC" x="295" y="634"/><use href="#gC" x="325" y="634"/><use href="#gT" x="355" y="634"/><use href="#gbG" x="385" y="634"/><use href="#gbG" x="415" y="634"/><use href="#gC" x="445" y="634"/><use href="#gA" x="475" y="634"/><use href="#gG" x="505" y="634"/><use href="#gbG" x="535" y="634"/><use href="#gbA" x="565" y="634"/><use href="#gC" x="595" y="634"/><use href="#gT" x="625" y="634"/><use href="#gG" x="655" y="634"/><use href="#gbG" x="685" y="634"/><use href="#gbA" x="715" y="634"/><use href="#gA" x="745" y="634"/><use href="#gG" x="775" y="634"/><use href="#gbA" x="805" y="634"/><use href="#gbA" x="835" y="634"/><use href="#gG" x="865" y="634"/><use href="#gT" x="895" y="634"/><use href="#gA" x="925" y="634"/><use href="#gC" x="955" y="634"/><use href="#gT" x="985" y="634"/><use href="#gT" x="1015" y="634"/><use href="#gT" x="1045" y="634"/><use href="#gG" x="1075" y="634"/><use href="#gA" x="1105" y="634"/></g>
<clipPath id="hmclip"><rect x="10" y="109" width="1110" height="540"/></clipPath><g clip-path="url(#hmclip)">
<rect x="880" y="319" width="30" height="30" fill="none" stroke="#c44e52" stroke-width="4.17"/>
<rect x="940" y="409" width="30" height="30" fill="none" stroke="#c44e52" stroke-width="4.17"/>
<rect x="880" y="619" width="210" height="30" fill="none" stroke="#c44e52" stroke-width="4.17"/>
</g>
<line x1="820" y1="649" x2="820" y2="109" stroke="#4c72b0" stroke-width="2.08" stroke-dasharray="7.71 3.33"/>
<rect x="311.2" y="53.2" width="598.6" height="19.6" fill="#d9d9d9"/>
<g style="font-size:32.2px;fill:#202020" transform="translate(200.00,71.00)"><text transform="translate(8.01,0) scale(0.907,1)" x="-7.91">s</text><text transform="translate(25.02,0) scale(1.028,1)" x="-8.59">g</text><text transform="translate(46.89,0) scale(0.904,1)" x="-12.21">R</text><text transform="translate(67.84,0) scale(0.935,1)" x="-11.64">N</text><text transform="translate(89.67,0) scale(0.952,1)" x="-10.75">A</text></g>
<path d="M1120 27h8v2h-8zM1120 123h8v2h-8zM1120 153h8v2h-8zM1120 183h8v2h-8zM1120 213h8v2h-8zM1120 243h8v2h-8zM1120 273h8v2h-8zM1120 303h8v2h-8zM1120 333h8v2h-8zM1120 363h8v2h-8zM1120 393h8v2h-8zM1120 423h8v2h-8zM1120 453h8v2h-8zM1120 483h8v2h-8zM1120 513h8v2h-8zM1120 543h8v2h-8zM1120 573h8v2h-8zM1120 603h8v2h-8zM1120 633h8v2h-8z" fill="#424242"/>
<g class="l" transform="translate(1134.15,38.47) rotate(-1)"><text transform="translate(12.84,0) scale(0.893,1)" x="-13.64">R</text><text transform="translate(32.22,0) scale(1.008,1)" x="-9.96">e</text><text transform="translate(49.17,0) scale(1.228,1)" x="-5.27">f</text><text transform="translate(64.75,0) scale(1.008,1)" x="-9.96">e</text><text transform="translate(83.51,0) scale(1.196,1)" x="-6.89">r</text><text transform="translate(98.51,0) scale(1.008,1)" x="-9.96">e</text><text transform="translate(119.58,0) scale(1.007,1)" x="-10.03">n</text><text transform="translate(139.27,0) scale(0.938,1)" x="-9.27">c</text><text transform="translate(158.99,0) scale(1.008,1)" x="-9.96">e</text></g>
<g class="l" transform="translate(1134.15,645.83) rotate(-1)"><text transform="translate(10.67,0) scale(0.985,1)" x="-10.01">0</text><text transform="translate(26.71,0) scale(1.009,1)" x="-4.99">.</text><text transform="translate(42.61,0) scale(0.929,1)" x="-9.97">5</text><text transform="translate(64.09,0) scale(0.946,1)" x="-9.89">3</text><text transform="translate(90.83,0) scale(0.959,1)" x="-16.00">%</text><text transform="translate(124.16,-2.24) scale(0.790,0.903)" x="-6.98">(</text><text transform="translate(141.61,0) scale(0.941,1)" x="-10.49">1</text><text transform="translate(163.00,0) scale(0.941,1)" x="-10.49">1</text><text transform="translate(192.53,0) scale(1.196,1)" x="-6.89">r</text><text transform="translate(207.53,0) scale(1.008,1)" x="-9.96">e</text><text transform="translate(227.64,0) scale(0.840,1)" x="-10.76">a</text><text transform="translate(248.52,0) scale(1.014,1)" x="-9.59">d</text><text transform="translate(268.65,0) scale(0.895,1)" x="-8.84">s</text><text transform="translate(283.78,-2.24) scale(0.790,0.903)" x="-4.97">)</text></g>
<g class="l" transform="translate(1134.15,615.83) rotate(-1)"><text transform="translate(10.67,0) scale(0.985,1)" x="-10.01">0</text><text transform="translate(26.71,0) scale(1.009,1)" x="-4.99">.</text><text transform="translate(42.61,0) scale(0.929,1)" x="-9.97">5</text><text transform="translate(64.16,0) scale(0.995,1)" x="-10.01">8</text><text transform="translate(90.83,0) scale(0.959,1)" x="-16.00">%</text><text transform="translate(124.16,-2.24) scale(0.790,0.903)" x="-6.98">(</text><text transform="translate(141.61,0) scale(0.941,1)" x="-10.49">1</text><text transform="translate(162.25,0) scale(0.949,1)" x="-9.99">2</text><text transform="translate(192.53,0) scale(1.196,1)" x="-6.89">r</text><text transform="translate(207.53,0) scale(1.008,1)" x="-9.96">e</text><text transform="translate(227.64,0) scale(0.840,1)" x="-10.76">a</text><text transform="translate(248.52,0) scale(1.014,1)" x="-9.59">d</text><text transform="translate(268.65,0) scale(0.895,1)" x="-8.84">s</text><text transform="translate(283.78,-2.24) scale(0.790,0.903)" x="-4.97">)</text></g>
<g class="l" transform="translate(1134.15,585.83) rotate(-1)"><text transform="translate(10.67,0) scale(0.985,1)" x="-10.01">0</text><text transform="translate(26.71,0) scale(1.009,1)" x="-4.99">.</text><text transform="translate(42.61,0) scale(0.929,1)" x="-9.97">5</text><text transform="translate(64.16,0) scale(0.995,1)" x="-10.01">8</text><text transform="translate(90.83,0) scale(0.959,1)" x="-16.00">%</text><text transform="translate(124.16,-2.24) scale(0.790,0.903)" x="-6.98">(</text><text transform="translate(141.61,0) scale(0.941,1)" x="-10.49">1</text><text transform="translate(162.25,0) scale(0.949,1)" x="-9.99">2</text><text transform="translate(192.53,0) scale(1.196,1)" x="-6.89">r</text><text transform="translate(207.53,0) scale(1.008,1)" x="-9.96">e</text><text transform="translate(227.64,0) scale(0.840,1)" x="-10.76">a</text><text transform="translate(248.52,0) scale(1.014,1)" x="-9.59">d</text><text transform="translate(268.65,0) scale(0.895,1)" x="-8.84">s</text><text transform="translate(283.78,-2.24) scale(0.790,0.903)" x="-4.97">)</text></g>
<g class="l" transform="translate(1134.15,555.83) rotate(-1)"><text transform="translate(10.67,0) scale(0.985,1)" x="-10.01">0</text><text transform="translate(26.71,0) scale(1.009,1)" x="-4.99">.</text><text transform="translate(42.89,0) scale(1.019,1)" x="-10.13">6</text><text transform="translate(64.09,0) scale(0.946,1)" x="-9.89">3</text><text transform="translate(90.83,0) scale(0.959,1)" x="-16.00">%</text><text transform="translate(124.16,-2.24) scale(0.790,0.903)" x="-6.98">(</text><text transform="translate(141.61,0) scale(0.941,1)" x="-10.49">1</text><text transform="translate(162.64,0) scale(0.946,1)" x="-9.89">3</text><text transform="translate(192.53,0) scale(1.196,1)" x="-6.89">r</text><text transform="translate(207.53,0) scale(1.008,1)" x="-9.96">e</text><text transform="translate(227.64,0) scale(0.840,1)" x="-10.76">a</text><text transform="translate(248.52,0) scale(1.014,1)" x="-9.59">d</text><text transform="translate(268.65,0) scale(0.895,1)" x="-8.84">s</text><text transform="translate(283.78,-2.24) scale(0.790,0.903)" x="-4.97">)</text></g>
<g class="l" transform="translate(1134.15,525.83) rotate(-1)"><text transform="translate(10.67,0) scale(0.985,1)" x="-10.01">0</text><text transform="translate(26.71,0) scale(1.009,1)" x="-4.99">.</text><text transform="translate(42.89,0) scale(1.019,1)" x="-10.13">6</text><text transform="translate(64.09,0) scale(0.946,1)" x="-9.89">3</text><text transform="translate(90.83,0) scale(0.959,1)" x="-16.00">%</text><text transform="translate(124.16,-2.24) scale(0.790,0.903)" x="-6.98">(</text><text transform="translate(141.61,0) scale(0.941,1)" x="-10.49">1</text><text transform="translate(162.64,0) scale(0.946,1)" x="-9.89">3</text><text transform="translate(192.53,0) scale(1.196,1)" x="-6.89">r</text><text transform="translate(207.53,0) scale(1.008,1)" x="-9.96">e</text><text transform="translate(227.64,0) scale(0.840,1)" x="-10.76">a</text><text transform="translate(248.52,0) scale(1.014,1)" x="-9.59">d</text><text transform="translate(268.65,0) scale(0.895,1)" x="-8.84">s</text><text transform="translate(283.78,-2.24) scale(0.790,0.903)" x="-4.97">)</text></g>
<g class="l" transform="translate(1134.15,495.83) rotate(-1)"><text transform="translate(10.67,0) scale(0.985,1)" x="-10.01">0</text><text transform="translate(26.71,0) scale(1.009,1)" x="-4.99">.</text><text transform="translate(42.89,0) scale(1.019,1)" x="-10.13">6</text><text transform="translate(64.16,0) scale(0.995,1)" x="-10.01">8</text><text transform="translate(90.83,0) scale(0.959,1)" x="-16.00">%</text><text transform="translate(124.16,-2.24) scale(0.790,0.903)" x="-6.98">(</text><text transform="translate(141.61,0) scale(0.941,1)" x="-10.49">1</text><text transform="translate(162.59,0) scale(0.984,1)" x="-9.88">4</text><text transform="translate(192.53,0) scale(1.196,1)" x="-6.89">r</text><text transform="translate(207.53,0) scale(1.008,1)" x="-9.96">e</text><text transform="translate(227.64,0) scale(0.840,1)" x="-10.76">a</text><text transform="translate(248.52,0) scale(1.014,1)" x="-9.59">d</text><text transform="translate(268.65,0) scale(0.895,1)" x="-8.84">s</text><text transform="translate(283.78,-2.24) scale(0.790,0.903)" x="-4.97">)</text></g>
<g class="l" transform="translate(1134.15,465.83) rotate(-1)"><text transform="translate(10.67,0) scale(0.985,1)" x="-10.01">0</text><text transform="translate(26.71,0) scale(1.009,1)" x="-4.99">.</text><text transform="translate(42.71,0) scale(0.963,1)" x="-10.02">7</text><text transform="translate(64.10,0) scale(0.963,1)" x="-10.02">7</text><text transform="translate(90.83,0) scale(0.959,1)" x="-16.00">%</text><text transform="translate(124.16,-2.24) scale(0.790,0.903)" x="-6.98">(</text><text transform="translate(141.61,0) scale(0.941,1)" x="-10.49">1</text><text transform="translate(162.82,0) scale(1.019,1)" x="-10.13">6</text><text transform="translate(192.53,0) scale(1.196,1)" x="-6.89">r</text><text transform="translate(207.53,0) scale(1.008,1)" x="-9.96">e</text><text transform="translate(227.64,0) scale(0.840,1)" x="-10.76">a</text><text transform="translate(248.52,0) scale(1.014,1)" x="-9.59">d</text><text transform="translate(268.65,0) scale(0.895,1)" x="-8.84">s</text><text transform="translate(283.78,-2.24) scale(0.790,0.903)" x="-4.97">)</text></g>
<g class="l" transform="translate(1134.15,435.83) rotate(-1)"><text transform="translate(10.67,0) scale(0.985,1)" x="-10.01">0</text><text transform="translate(26.71,0) scale(1.009,1)" x="-4.99">.</text><text transform="translate(42.77,0) scale(0.995,1)" x="-10.01">8</text><text transform="translate(63.71,0) scale(0.949,1)" x="-9.99">2</text><text transform="translate(90.83,0) scale(0.959,1)" x="-16.00">%</text><text transform="translate(124.16,-2.24) scale(0.790,0.903)" x="-6.98">(</text><text transform="translate(141.61,0) scale(0.941,1)" x="-10.49">1</text><text transform="translate(162.64,0) scale(0.963,1)" x="-10.02">7</text><text transform="translate(192.53,0) scale(1.196,1)" x="-6.89">r</text><text transform="translate(207.53,0) scale(1.008,1)" x="-9.96">e</text><text transform="translate(227.64,0) scale(0.840,1)" x="-10.76">a</text><text transform="translate(248.52,0) scale(1.014,1)" x="-9.59">d</text><text transform="translate(268.65,0) scale(0.895,1)" x="-8.84">s</text><text transform="translate(283.78,-2.24) scale(0.790,0.903)" x="-4.97">)</text></g>
<g class="l" transform="translate(1134.15,405.83) rotate(-1)"><text transform="translate(10.67,0) scale(0.985,1)" x="-10.01">0</text><text transform="translate(26.71,0) scale(1.009,1)" x="-4.99">.</text><text transform="translate(42.77,0) scale(0.995,1)" x="-10.01">8</text><text transform="translate(64.10,0) scale(0.963,1)" x="-10.02">7</text><text transform="translate(90.83,0) scale(0.959,1)" x="-16.00">%</text><text transform="translate(124.16,-2.24) scale(0.790,0.903)" x="-6.98">(</text><text transform="translate(141.61,0) scale(0.941,1)" x="-10.49">1</text><text transform="translate(162.71,0) scale(0.995,1)" x="-10.01">8</text><text transform="translate(192.53,0) scale(1.196,1)" x="-6.89">r</text><text transform="translate(207.53,0) scale(1.008,1)" x="-9.96">e</text><text transform="translate(227.64,0) scale(0.840,1)" x="-10.76">a</text><text transform="translate(248.52,0) scale(1.014,1)" x="-9.59">d</text><text transform="translate(268.65,0) scale(0.895,1)" x="-8.84">s</text><text transform="translate(283.78,-2.24) scale(0.790,0.903)" x="-4.97">)</text></g>
<g class="l" transform="translate(1134.15,375.83) rotate(-1)"><text transform="translate(10.98,0) scale(0.941,1)" x="-10.49">1</text><text transform="translate(26.71,0) scale(1.009,1)" x="-4.99">.</text><text transform="translate(42.65,0) scale(0.984,1)" x="-9.88">4</text><text transform="translate(64.15,0) scale(0.985,1)" x="-10.01">0</text><text transform="translate(90.83,0) scale(0.959,1)" x="-16.00">%</text><text transform="translate(124.16,-2.24) scale(0.790,0.903)" x="-6.98">(</text><text transform="translate(140.86,0) scale(0.949,1)" x="-9.99">2</text><text transform="translate(162.58,0) scale(1.017,1)" x="-10.00">9</text><text transform="translate(192.53,0) scale(1.196,1)" x="-6.89">r</text><text transform="translate(207.53,0) scale(1.008,1)" x="-9.96">e</text><text transform="translate(227.64,0) scale(0.840,1)" x="-10.76">a</text><text transform="translate(248.52,0) scale(1.014,1)" x="-9.59">d</text><text transform="translate(268.65,0) scale(0.895,1)" x="-8.84">s</text><text transform="translate(283.78,-2.24) scale(0.790,0.903)" x="-4.97">)</text></g>
<g class="l" transform="translate(1134.15,345.83) rotate(-1)"><text transform="translate(10.98,0) scale(0.941,1)" x="-10.49">1</text><text transform="translate(26.71,0) scale(1.009,1)" x="-4.99">.</text><text transform="translate(42.65,0) scale(0.984,1)" x="-9.88">4</text><text transform="translate(64.04,0) scale(1.017,1)" x="-10.00">9</text><text transform="translate(90.83,0) scale(0.959,1)" x="-16.00">%</text><text transform="translate(124.16,-2.24) scale(0.790,0.903)" x="-6.98">(</text><text transform="translate(141.24,0) scale(0.946,1)" x="-9.89">3</text><text transform="translate(163.00,0) scale(0.941,1)" x="-10.49">1</text><text transform="translate(192.53,0) scale(1.196,1)" x="-6.89">r</text><text transform="translate(207.53,0) scale(1.008,1)" x="-9.96">e</text><text transform="translate(227.64,0) scale(0.840,1)" x="-10.76">a</text><text transform="translate(248.52,0) scale(1.014,1)" x="-9.59">d</text><text transform="translate(268.65,0) scale(0.895,1)" x="-8.84">s</text><text transform="translate(283.78,-2.24) scale(0.790,0.903)" x="-4.97">)</text></g>
<g class="l" transform="translate(1134.15,315.83) rotate(-1)"><text transform="translate(10.98,0) scale(0.941,1)" x="-10.49">1</text><text transform="translate(26.71,0) scale(1.009,1)" x="-4.99">.</text><text transform="translate(42.65,0) scale(0.984,1)" x="-9.88">4</text><text transform="translate(64.04,0) scale(1.017,1)" x="-10.00">9</text><text transform="translate(90.83,0) scale(0.959,1)" x="-16.00">%</text><text transform="translate(124.16,-2.24) scale(0.790,0.903)" x="-6.98">(</text><text transform="translate(141.24,0) scale(0.946,1)" x="-9.89">3</text><text transform="translate(163.00,0) scale(0.941,1)" x="-10.49">1</text><text transform="translate(192.53,0) scale(1.196,1)" x="-6.89">r</text><text transform="translate(207.53,0) scale(1.008,1)" x="-9.96">e</text><text transform="translate(227.64,0) scale(0.840,1)" x="-10.76">a</text><text transform="translate(248.52,0) scale(1.014,1)" x="-9.59">d</text><text transform="translate(268.65,0) scale(0.895,1)" x="-8.84">s</text><text transform="translate(283.78,-2.24) scale(0.790,0.903)" x="-4.97">)</text></g>
<g class="l" transform="translate(1134.15,285.83) rotate(-1)"><text transform="translate(10.23,0) scale(0.949,1)" x="-9.99">2</text><text transform="translate(26.71,0) scale(1.009,1)" x="-4.99">.</text><text transform="translate(42.89,0) scale(1.019,1)" x="-10.13">6</text><text transform="translate(64.15,0) scale(0.985,1)" x="-10.01">0</text><text transform="translate(90.83,0) scale(0.959,1)" x="-16.00">%</text><text transform="translate(124.16,-2.24) scale(0.790,0.903)" x="-6.98">(</text><text transform="translate(141.15,0) scale(0.929,1)" x="-9.97">5</text><text transform="translate(162.59,0) scale(0.984,1)" x="-9.88">4</text><text transform="translate(192.53,0) scale(1.196,1)" x="-6.89">r</text><text transform="translate(207.53,0) scale(1.008,1)" x="-9.96">e</text><text transform="translate(227.64,0) scale(0.840,1)" x="-10.76">a</text><text transform="translate(248.52,0) scale(1.014,1)" x="-9.59">d</text><text transform="translate(268.65,0) scale(0.895,1)" x="-8.84">s</text><text transform="translate(283.78,-2.24) scale(0.790,0.903)" x="-4.97">)</text></g>
<g class="l" transform="translate(1134.15,255.83) rotate(-1)"><text transform="translate(10.62,0) scale(0.946,1)" x="-9.89">3</text><text transform="translate(26.71,0) scale(1.009,1)" x="-4.99">.</text><text transform="translate(43.07,0) scale(0.941,1)" x="-10.49">1</text><text transform="translate(64.09,0) scale(0.946,1)" x="-9.89">3</text><text transform="translate(90.83,0) scale(0.959,1)" x="-16.00">%</text><text transform="translate(124.16,-2.24) scale(0.790,0.903)" x="-6.98">(</text><text transform="translate(141.43,0) scale(1.019,1)" x="-10.13">6</text><text transform="translate(162.54,0) scale(0.929,1)" x="-9.97">5</text><text transform="translate(192.53,0) scale(1.196,1)" x="-6.89">r</text><text transform="translate(207.53,0) scale(1.008,1)" x="-9.96">e</text><text transform="translate(227.64,0) scale(0.840,1)" x="-10.76">a</text><text transform="translate(248.52,0) scale(1.014,1)" x="-9.59">d</text><text transform="translate(268.65,0) scale(0.895,1)" x="-8.84">s</text><text transform="translate(283.78,-2.24) scale(0.790,0.903)" x="-4.97">)</text></g>
<g class="l" transform="translate(1134.15,225.83) rotate(-1)"><text transform="translate(10.62,0) scale(0.946,1)" x="-9.89">3</text><text transform="translate(26.71,0) scale(1.009,1)" x="-4.99">.</text><text transform="translate(42.32,0) scale(0.949,1)" x="-9.99">2</text><text transform="translate(64.09,0) scale(0.946,1)" x="-9.89">3</text><text transform="translate(90.83,0) scale(0.959,1)" x="-16.00">%</text><text transform="translate(124.16,-2.24) scale(0.790,0.903)" x="-6.98">(</text><text transform="translate(141.43,0) scale(1.019,1)" x="-10.13">6</text><text transform="translate(162.64,0) scale(0.963,1)" x="-10.02">7</text><text transform="translate(192.53,0) scale(1.196,1)" x="-6.89">r</text><text transform="translate(207.53,0) scale(1.008,1)" x="-9.96">e</text><text transform="translate(227.64,0) scale(0.840,1)" x="-10.76">a</text><text transform="translate(248.52,0) scale(1.014,1)" x="-9.59">d</text><text transform="translate(268.65,0) scale(0.895,1)" x="-8.84">s</text><text transform="translate(283.78,-2.24) scale(0.790,0.903)" x="-4.97">)</text></g>
<g class="l" transform="translate(1134.15,195.83) rotate(-1)"><text transform="translate(10.57,0) scale(0.984,1)" x="-9.88">4</text><text transform="translate(26.71,0) scale(1.009,1)" x="-4.99">.</text><text transform="translate(42.75,0) scale(0.985,1)" x="-10.01">0</text><text transform="translate(64.15,0) scale(0.985,1)" x="-10.01">0</text><text transform="translate(90.83,0) scale(0.959,1)" x="-16.00">%</text><text transform="translate(124.16,-2.24) scale(0.790,0.903)" x="-6.98">(</text><text transform="translate(141.31,0) scale(0.995,1)" x="-10.01">8</text><text transform="translate(162.64,0) scale(0.946,1)" x="-9.89">3</text><text transform="translate(192.53,0) scale(1.196,1)" x="-6.89">r</text><text transform="translate(207.53,0) scale(1.008,1)" x="-9.96">e</text><text transform="translate(227.64,0) scale(0.840,1)" x="-10.76">a</text><text transform="translate(248.52,0) scale(1.014,1)" x="-9.59">d</text><text transform="translate(268.65,0) scale(0.895,1)" x="-8.84">s</text><text transform="translate(283.78,-2.24) scale(0.790,0.903)" x="-4.97">)</text></g>
<g class="l" transform="translate(1134.15,166.02) rotate(-1)"><text transform="translate(10.56,0) scale(1.017,1)" x="-10.00">9</text><text transform="translate(26.71,0) scale(1.009,1)" x="-4.99">.</text><text transform="translate(42.75,0) scale(0.985,1)" x="-10.01">0</text><text transform="translate(63.71,0) scale(0.949,1)" x="-9.99">2</text><text transform="translate(90.83,0) scale(0.959,1)" x="-16.00">%</text><text transform="translate(124.16,-2.24) scale(0.790,0.903)" x="-6.98">(</text><text transform="translate(141.61,0) scale(0.941,1)" x="-10.49">1</text><text transform="translate(162.71,0) scale(0.995,1)" x="-10.01">8</text><text transform="translate(184.04,0) scale(0.963,1)" x="-10.02">7</text><text transform="translate(213.92,0) scale(1.196,1)" x="-6.89">r</text><text transform="translate(228.93,0) scale(1.008,1)" x="-9.96">e</text><text transform="translate(249.04,0) scale(0.840,1)" x="-10.76">a</text><text transform="translate(269.91,0) scale(1.014,1)" x="-9.59">d</text><text transform="translate(290.04,0) scale(0.895,1)" x="-8.84">s</text><text transform="translate(305.18,-2.24) scale(0.790,0.903)" x="-4.97">)</text></g>
<g class="l" transform="translate(1134.15,136.98) rotate(-1)"><text transform="translate(10.52,0) scale(0.929,1)" x="-9.97">5</text><text transform="translate(32.20,0) scale(1.019,1)" x="-10.13">6</text><text transform="translate(48.11,0) scale(1.009,1)" x="-4.99">.</text><text transform="translate(64.28,0) scale(1.019,1)" x="-10.13">6</text><text transform="translate(85.85,0) scale(0.941,1)" x="-10.49">1</text><text transform="translate(112.22,0) scale(0.959,1)" x="-16.00">%</text><text transform="translate(145.56,-2.24) scale(0.790,0.903)" x="-6.98">(</text><text transform="translate(163.00,0) scale(0.941,1)" x="-10.49">1</text><text transform="translate(184.40,0) scale(0.941,1)" x="-10.49">1</text><text transform="translate(205.43,0) scale(0.963,1)" x="-10.02">7</text><text transform="translate(226.77,0) scale(0.984,1)" x="-9.88">4</text><text transform="translate(256.71,0) scale(1.196,1)" x="-6.89">r</text><text transform="translate(271.71,0) scale(1.008,1)" x="-9.96">e</text><text transform="translate(291.82,0) scale(0.840,1)" x="-10.76">a</text><text transform="translate(312.70,0) scale(1.014,1)" x="-9.59">d</text><text transform="translate(332.83,0) scale(0.895,1)" x="-8.84">s</text><text transform="translate(347.96,-2.24) scale(0.790,0.903)" x="-4.97">)</text><text transform="translate(363.03,0) scale(1.151,1)" x="-7.01">*</text><text transform="translate(379.84,0) scale(1.151,1)" x="-7.01">*</text><text transform="translate(396.65,0) scale(1.151,1)" x="-7.01">*</text><text transform="translate(413.46,0) scale(1.151,1)" x="-7.01">*</text></g>
<path d="M280.22 666.5H850.78Q857.5 666.5 857.5 673.22V868.78Q857.5 875.5 850.78 875.5H280.22Q273.5 875.5 273.5 868.78V673.22Q273.5 666.5 280.22 666.5Z" fill="#fff" stroke="#d6d6d6" stroke-width="1.39"/>
<g style="font-size:22.4px;font-weight:bold;fill:#000;stroke:#000;stroke-width:0.3px" transform="translate(293.73,701.98)"><text transform="translate(8.20,0) scale(1.133,1)" x="-7.10">b</text><text transform="translate(23.02,0) scale(1.097,1)" x="-6.83">o</text><text transform="translate(34.22,0) scale(1.240,1)" x="-3.09">l</text><text transform="translate(45.32,0) scale(1.133,1)" x="-6.54">d</text></g>
<rect x="309.5" y="732.5" width="22" height="22" fill="none" stroke="#c44e52" stroke-width="3.47"/>
<rect x="317.5" y="792.8" width="6" height="1.4" fill="#000"/>
<line x1="286" y1="843" x2="354" y2="843" stroke="#000" stroke-width="2.08" stroke-dasharray="7.71 3.33"/>
<g style="font-size:35.3px;fill:#262626" transform="translate(380.06,705.54)"><text transform="translate(10.83,0) scale(0.851,1)" x="-11.73">S</text><text transform="translate(31.88,0) scale(1.028,1)" x="-9.77">u</text><text transform="translate(53.92,0) scale(1.037,1)" x="-10.19">b</text><text transform="translate(72.84,0) scale(0.915,1)" x="-8.65">s</text><text transform="translate(88.14,0) scale(1.274,1)" x="-5.03">t</text><text transform="translate(99.37,0) scale(0.975,1)" x="-3.89">i</text><text transform="translate(110.67,0) scale(1.274,1)" x="-5.03">t</text><text transform="translate(127.77,0) scale(1.028,1)" x="-9.77">u</text><text transform="translate(145.16,0) scale(1.274,1)" x="-5.03">t</text><text transform="translate(156.39,0) scale(0.975,1)" x="-3.89">i</text><text transform="translate(171.35,0) scale(1.014,1)" x="-9.79">o</text><text transform="translate(192.38,0) scale(1.028,1)" x="-9.81">n</text><text transform="translate(211.78,0) scale(0.915,1)" x="-8.65">s</text></g>
<g style="font-size:35.3px;fill:#262626" transform="translate(380.06,755.35)"><text transform="translate(4.95,0) scale(1.010,1)" x="-4.89">I</text><text transform="translate(20.66,0) scale(1.028,1)" x="-9.81">n</text><text transform="translate(40.06,0) scale(0.915,1)" x="-8.65">s</text><text transform="translate(59.11,0) scale(1.030,1)" x="-9.75">e</text><text transform="translate(77.86,0) scale(1.222,1)" x="-6.73">r</text><text transform="translate(89.88,0) scale(1.274,1)" x="-5.03">t</text><text transform="translate(101.11,0) scale(0.975,1)" x="-3.89">i</text><text transform="translate(116.07,0) scale(1.014,1)" x="-9.79">o</text><text transform="translate(137.10,0) scale(1.028,1)" x="-9.81">n</text><text transform="translate(156.50,0) scale(0.915,1)" x="-8.65">s</text></g>
<g style="font-size:35.3px;fill:#262626" transform="translate(380.06,805.15)"><text transform="translate(13.59,0) scale(0.987,1)" x="-13.33">D</text><text transform="translate(36.25,0) scale(1.030,1)" x="-9.75">e</text><text transform="translate(51.24,0) scale(0.975,1)" x="-3.92">l</text><text transform="translate(66.28,0) scale(1.030,1)" x="-9.75">e</text><text transform="translate(83.23,0) scale(1.274,1)" x="-5.03">t</text><text transform="translate(94.46,0) scale(0.975,1)" x="-3.89">i</text><text transform="translate(109.42,0) scale(1.014,1)" x="-9.79">o</text><text transform="translate(130.45,0) scale(1.028,1)" x="-9.81">n</text><text transform="translate(149.85,0) scale(0.915,1)" x="-8.65">s</text></g>
<g style="font-size:35.3px;fill:#262626" transform="translate(380.06,854.96)"><text transform="translate(11.20,0) scale(0.843,1)" x="-12.27">P</text><text transform="translate(28.08,0) scale(1.222,1)" x="-6.73">r</text><text transform="translate(43.09,0) scale(1.030,1)" x="-9.75">e</text><text transform="translate(63.47,0) scale(1.036,1)" x="-9.39">d</text><text transform="translate(79.42,0) scale(0.975,1)" x="-3.89">i</text><text transform="translate(93.22,0) scale(0.958,1)" x="-9.08">c</text><text transform="translate(109.21,0) scale(1.274,1)" x="-5.03">t</text><text transform="translate(126.13,0) scale(1.030,1)" x="-9.75">e</text><text transform="translate(146.51,0) scale(1.036,1)" x="-9.39">d</text><text transform="translate(177.61,0) scale(0.958,1)" x="-9.08">c</text><text transform="translate(191.64,0) scale(0.975,1)" x="-3.92">l</text><text transform="translate(206.68,0) scale(1.030,1)" x="-9.75">e</text><text transform="translate(226.79,0) scale(0.858,1)" x="-10.53">a</text><text transform="translate(247.56,0) scale(1.030,1)" x="-8.80">v</text><text transform="translate(267.29,0) scale(0.858,1)" x="-10.53">a</text><text transform="translate(288.17,0) scale(1.036,1)" x="-9.39">g</text><text transform="translate(309.82,0) scale(1.030,1)" x="-9.75">e</text><text transform="translate(342.10,0) scale(1.037,1)" x="-10.19">p</text><text transform="translate(362.46,0) scale(1.014,1)" x="-9.79">o</text><text transform="translate(381.59,0) scale(0.915,1)" x="-8.65">s</text><text transform="translate(394.93,0) scale(0.975,1)" x="-3.89">i</text><text transform="translate(406.24,0) scale(1.274,1)" x="-5.03">t</text><text transform="translate(417.46,0) scale(0.975,1)" x="-3.89">i</text><text transform="translate(432.42,0) scale(1.014,1)" x="-9.79">o</text><text transform="translate(453.45,0) scale(1.028,1)" x="-9.81">n</text></g>
</svg></body></html>
